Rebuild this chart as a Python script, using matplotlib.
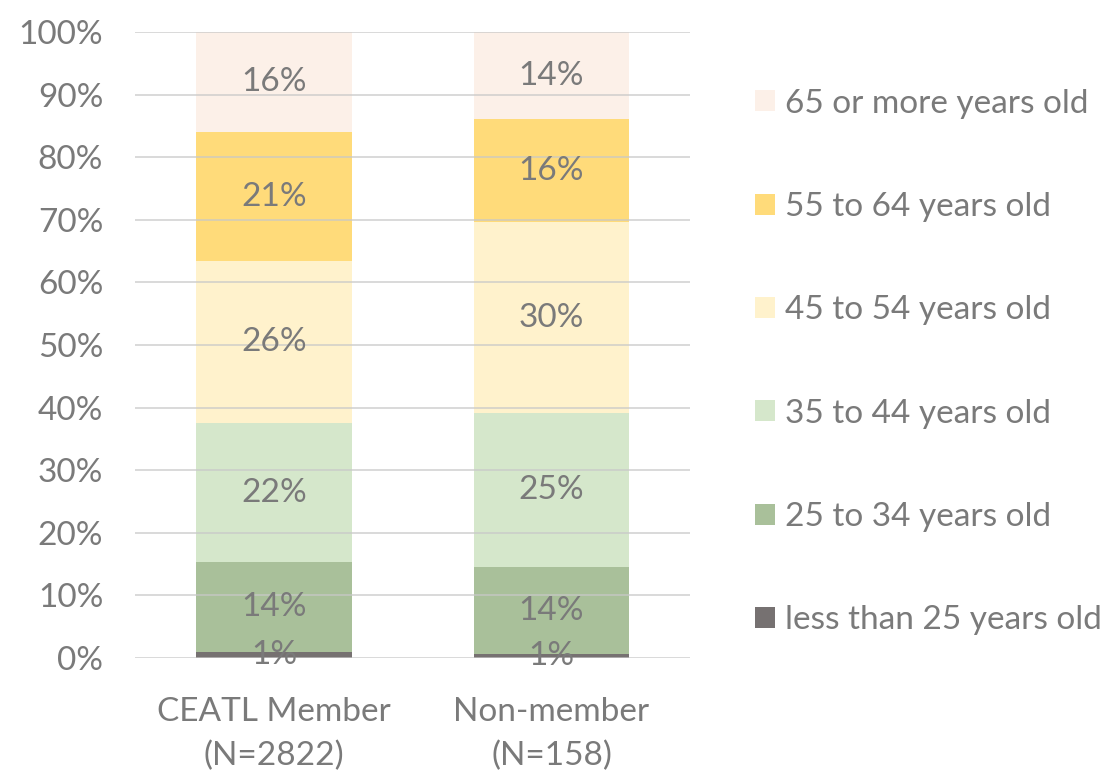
import numpy as np
import matplotlib.pyplot as plt
from matplotlib.ticker import PercentFormatter

plt.rcParams['font.family'] = ['Lato', 'DejaVu Sans']

# groups shown on the x axis
groups = ['CEATL Member\n(N=2822)', 'Non-member\n(N=158)']

# age brackets, bottom to top of the stack
age_groups = ['less than 25 years old', '25 to 34 years old', '35 to 44 years old',
              '45 to 54 years old', '55 to 64 years old', '65 or more years old']

# shares in percent
ceatl_member = [0.9, 14.4, 22.2, 25.9, 20.6, 16.0]
non_member = [0.6, 13.9, 24.6, 30.5, 16.5, 13.9]

colors = ['#767171', '#a9c09a', '#d5e7cb', '#fff2cc', '#ffdb7a', '#fcf0e8']
text_gray = '#7a7a7a'

fig = plt.figure(figsize=(11.17, 7.7), dpi=100)
ax = fig.add_axes([0.121, 0.1455, 0.497, 0.8129])

x = np.array([0.5, 1.5])
data = np.array([ceatl_member, non_member])
bottom = np.zeros(2)
bars = []
for i, label in enumerate(age_groups):
    b = ax.bar(x, data[:, i], 0.56, bottom=bottom, color=colors[i], label=label, zorder=2)
    bars.append(b)
    for xi, v, bt in zip(x, data[:, i], bottom):
        ax.text(xi, bt + v / 2, f'{round(v):.0f}%', ha='center', va='center',
                fontsize=24, color=text_gray, zorder=4)
    bottom += data[:, i]

# grid on top of the (light) bars
for yv in range(0, 101, 10):
    ax.axhline(yv, color='#c8c8c8', lw=1.2, alpha=0.8, zorder=3)

ax.set_xlim(0, 2)
ax.set_ylim(0, 100)
ax.set_yticks(np.arange(0, 101, 10))
ax.yaxis.set_major_formatter(PercentFormatter(decimals=0))
ax.set_xticks(x)
ax.set_xticklabels(groups, linespacing=1.55)
ax.tick_params(axis='both', length=0, labelsize=24, labelcolor=text_gray)
ax.tick_params(axis='y', pad=23)
ax.tick_params(axis='x', pad=28)
for s in ax.spines.values():
    s.set_visible(False)

handles = bars[::-1]
labels = age_groups[::-1]
fig.legend(handles, labels, loc='upper left', bbox_to_anchor=(0.676, 0.885),
           frameon=False, fontsize=24, labelcolor=text_gray, borderpad=0,
           borderaxespad=0, labelspacing=2.2, handlelength=0.6, handleheight=0.6,
           handletextpad=0.3)

fig.savefig('out.png', dpi=100)
